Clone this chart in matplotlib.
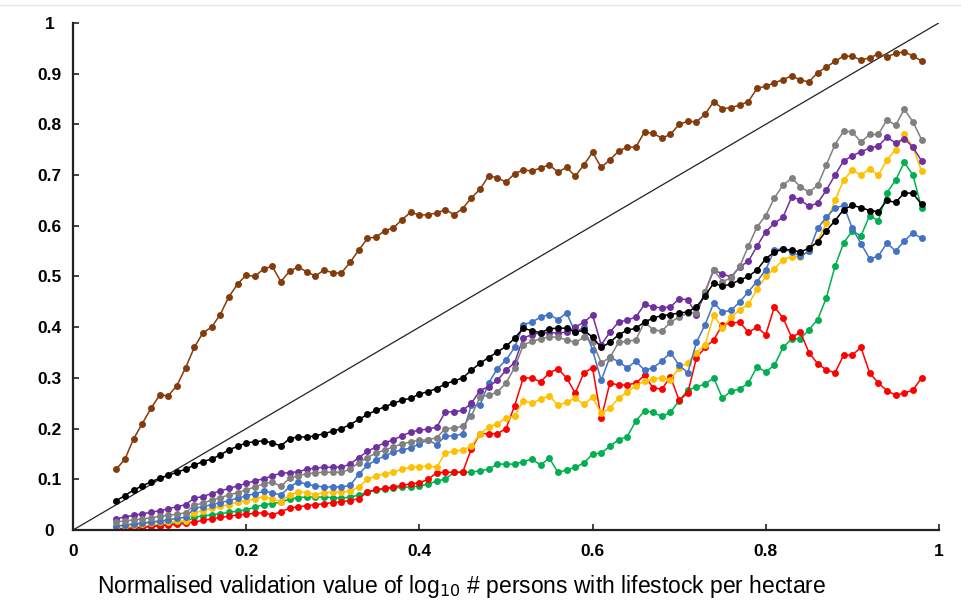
import numpy as np
import matplotlib
matplotlib.use("Agg")
import matplotlib.pyplot as plt
from matplotlib.lines import Line2D

plt.rcParams["font.family"] = ["Liberation Sans", "DejaVu Sans"]

# validation bins (0.05 .. 0.98)
x = np.round(np.arange(0.05, 0.985, 0.01), 2)

brown = [0.12, 0.14, 0.18, 0.21, 0.24, 0.266, 0.265, 0.285, 0.32, 0.36,
         0.389, 0.40, 0.425, 0.46, 0.485, 0.503, 0.50, 0.515, 0.52, 0.49,
         0.51, 0.519, 0.509, 0.501, 0.513, 0.507, 0.507, 0.528, 0.552, 0.575,
         0.578, 0.59, 0.596, 0.612, 0.627, 0.621, 0.622, 0.625, 0.632, 0.622,
         0.634, 0.655, 0.672, 0.698, 0.695, 0.686, 0.703, 0.71, 0.708, 0.714,
         0.72, 0.706, 0.715, 0.698, 0.72, 0.745, 0.715, 0.73, 0.747, 0.755,
         0.755, 0.785, 0.782, 0.773, 0.78, 0.80, 0.806, 0.805, 0.82, 0.845,
         0.831, 0.833, 0.838, 0.845, 0.871, 0.875, 0.882, 0.888, 0.896, 0.887,
         0.884, 0.902, 0.913, 0.924, 0.935, 0.934, 0.927, 0.931, 0.939, 0.933,
         0.94, 0.943, 0.935, 0.925]

black = [0.058, 0.068, 0.079, 0.087, 0.095, 0.102, 0.108, 0.114, 0.12, 0.128,
         0.135, 0.14, 0.148, 0.158, 0.165, 0.172, 0.174, 0.176, 0.172, 0.166,
         0.18, 0.184, 0.183, 0.186, 0.19, 0.195, 0.2, 0.208, 0.218, 0.228,
         0.236, 0.243, 0.25, 0.256, 0.26, 0.268, 0.273, 0.279, 0.288, 0.294,
         0.30, 0.315, 0.329, 0.34, 0.351, 0.362, 0.378, 0.398, 0.393, 0.389,
         0.397, 0.398, 0.398, 0.39, 0.394, 0.38, 0.36, 0.37, 0.385, 0.394,
         0.398, 0.41, 0.418, 0.423, 0.425, 0.428, 0.43, 0.44, 0.462, 0.487,
         0.481, 0.485, 0.493, 0.50, 0.513, 0.535, 0.548, 0.554, 0.552, 0.548,
         0.556, 0.568, 0.59, 0.61, 0.632, 0.64, 0.636, 0.63, 0.628, 0.65,
         0.646, 0.665, 0.664, 0.642]

purple = [0.022, 0.026, 0.029, 0.032, 0.035, 0.038, 0.042, 0.046, 0.05, 0.063,
          0.066, 0.072, 0.077, 0.082, 0.087, 0.092, 0.097, 0.101, 0.107, 0.112,
          0.113, 0.115, 0.12, 0.122, 0.124, 0.124, 0.124, 0.13, 0.143, 0.155,
          0.164, 0.172, 0.178, 0.186, 0.193, 0.197, 0.199, 0.203, 0.233, 0.233,
          0.236, 0.25, 0.275, 0.283, 0.295, 0.315, 0.33, 0.379, 0.385, 0.389,
          0.389, 0.389, 0.39, 0.40, 0.41, 0.424, 0.365, 0.39, 0.41, 0.414,
          0.42, 0.445, 0.44, 0.438, 0.44, 0.456, 0.454, 0.425, 0.47, 0.513,
          0.505, 0.499, 0.519, 0.53, 0.56, 0.588, 0.605, 0.617, 0.657, 0.651,
          0.638, 0.645, 0.67, 0.70, 0.728, 0.738, 0.746, 0.753, 0.757, 0.775,
          0.763, 0.772, 0.755, 0.728]

grey = [0.016, 0.018, 0.02, 0.022, 0.024, 0.027, 0.029, 0.031, 0.034, 0.049,
        0.053, 0.059, 0.064, 0.069, 0.074, 0.079, 0.085, 0.091, 0.095, 0.086,
        0.102, 0.107, 0.111, 0.113, 0.114, 0.114, 0.114, 0.12, 0.133, 0.143,
        0.152, 0.158, 0.164, 0.17, 0.174, 0.177, 0.178, 0.182, 0.2, 0.201,
        0.205, 0.225, 0.262, 0.266, 0.272, 0.29, 0.32, 0.365, 0.372, 0.377,
        0.381, 0.38, 0.375, 0.37, 0.38, 0.37, 0.33, 0.34, 0.37, 0.372,
        0.375, 0.41, 0.395, 0.392, 0.41, 0.42, 0.428, 0.428, 0.47, 0.513,
        0.49, 0.497, 0.52, 0.56, 0.598, 0.62, 0.655, 0.68, 0.694, 0.677,
        0.666, 0.68, 0.72, 0.76, 0.787, 0.785, 0.765, 0.78, 0.78, 0.809,
        0.798, 0.83, 0.805, 0.77]

blue = [0.008, 0.01, 0.012, 0.014, 0.016, 0.018, 0.02, 0.023, 0.025, 0.043,
        0.046, 0.05, 0.054, 0.058, 0.063, 0.067, 0.072, 0.076, 0.074, 0.069,
        0.085, 0.095, 0.09, 0.087, 0.085, 0.085, 0.085, 0.088, 0.11, 0.128,
        0.138, 0.146, 0.154, 0.158, 0.162, 0.17, 0.178, 0.168, 0.186, 0.185,
        0.19, 0.246, 0.246, 0.29, 0.318, 0.335, 0.36, 0.405, 0.41, 0.42,
        0.425, 0.415, 0.428, 0.39, 0.40, 0.355, 0.295, 0.341, 0.332, 0.32,
        0.333, 0.315, 0.32, 0.333, 0.35, 0.325, 0.31, 0.37, 0.405, 0.448,
        0.43, 0.433, 0.45, 0.47, 0.49, 0.513, 0.552, 0.555, 0.548, 0.54,
        0.55, 0.595, 0.617, 0.635, 0.64, 0.595, 0.565, 0.535, 0.54, 0.566,
        0.55, 0.57, 0.586, 0.575]

yellow = [0.005, 0.007, 0.009, 0.012, 0.014, 0.015, 0.016, 0.017, 0.018, 0.034,
          0.038, 0.043, 0.047, 0.05, 0.055, 0.058, 0.062, 0.065, 0.062, 0.056,
          0.069, 0.075, 0.074, 0.07, 0.074, 0.075, 0.075, 0.077, 0.085, 0.1,
          0.107, 0.111, 0.114, 0.12, 0.124, 0.125, 0.126, 0.124, 0.152, 0.155,
          0.158, 0.165, 0.19, 0.203, 0.21, 0.22, 0.225, 0.255, 0.25, 0.258,
          0.265, 0.246, 0.252, 0.26, 0.248, 0.262, 0.23, 0.24, 0.26, 0.272,
          0.285, 0.293, 0.298, 0.30, 0.296, 0.32, 0.33, 0.35, 0.365, 0.424,
          0.398, 0.42, 0.434, 0.445, 0.475, 0.50, 0.515, 0.533, 0.539, 0.539,
          0.55, 0.57, 0.605, 0.65, 0.69, 0.71, 0.70, 0.712, 0.70, 0.73,
          0.75, 0.78, 0.755, 0.708]

red = [0.002, 0.003, 0.004, 0.005, 0.007, 0.008, 0.01, 0.011, 0.013, 0.016,
       0.019, 0.022, 0.025, 0.027, 0.03, 0.031, 0.033, 0.034, 0.03, 0.036,
       0.043, 0.046, 0.048, 0.05, 0.052, 0.054, 0.056, 0.058, 0.062, 0.075,
       0.08, 0.082, 0.085, 0.088, 0.091, 0.093, 0.1, 0.113, 0.114, 0.114,
       0.114, 0.16, 0.19, 0.19, 0.19, 0.2, 0.245, 0.30, 0.30, 0.292,
       0.31, 0.318, 0.30, 0.27, 0.31, 0.32, 0.22, 0.29, 0.286, 0.286,
       0.29, 0.305, 0.28, 0.278, 0.302, 0.256, 0.27, 0.34, 0.36, 0.375,
       0.405, 0.408, 0.41, 0.39, 0.40, 0.385, 0.44, 0.418, 0.38, 0.39,
       0.35, 0.328, 0.316, 0.31, 0.345, 0.345, 0.36, 0.31, 0.29, 0.275,
       0.266, 0.27, 0.276, 0.30]

green = [0.0, 0.002, 0.004, 0.006, 0.008, 0.01, 0.012, 0.014, 0.016, 0.025,
         0.028, 0.03, 0.032, 0.035, 0.037, 0.04, 0.045, 0.05, 0.052, 0.055,
         0.061, 0.064, 0.065, 0.065, 0.065, 0.064, 0.063, 0.065, 0.069, 0.075,
         0.078, 0.081, 0.083, 0.084, 0.085, 0.087, 0.09, 0.097, 0.1, 0.114,
         0.114, 0.114, 0.117, 0.12, 0.13, 0.13, 0.13, 0.135, 0.14, 0.128,
         0.142, 0.114, 0.118, 0.124, 0.132, 0.15, 0.152, 0.165, 0.178, 0.184,
         0.215, 0.235, 0.232, 0.224, 0.232, 0.255, 0.276, 0.282, 0.288, 0.30,
         0.26, 0.274, 0.278, 0.29, 0.322, 0.312, 0.325, 0.36, 0.377, 0.377,
         0.395, 0.415, 0.458, 0.52, 0.566, 0.59, 0.58, 0.62, 0.61, 0.665,
         0.69, 0.725, 0.70, 0.635]

series = [
    (brown, "#843C0C"),
    (green, "#00B050"),
    (red, "#FF0000"),
    (yellow, "#FFC000"),
    (blue, "#4472C4"),
    (purple, "#7030A0"),
    (grey, "#808080"),
    (black, "#000000"),
]

fig = plt.figure(figsize=(9.61, 6.03), dpi=100)
ax = fig.add_axes([0.076, 0.121, 0.901, 0.841])

# 1:1 line
ax.plot([0, 1], [0, 1], color="#222222", lw=0.9, zorder=1)

for vals, col in series:
    ax.plot(x, vals, color=col, lw=1.1, marker="o", markersize=5.0,
            markeredgewidth=0, zorder=2)

ax.set_xlim(0, 1)
ax.set_ylim(0, 1)
ax.set_xticks([0, 0.2, 0.4, 0.6, 0.8, 1])
ax.set_xticklabels(["0", "0.2", "0.4", "0.6", "0.8", "1"])
ax.set_yticks(np.arange(0, 1.01, 0.1))
ax.set_yticklabels(["0", "0.1", "0.2", "0.3", "0.4", "0.5", "0.6", "0.7", "0.8", "0.9", "1"])

for s in ["top", "right"]:
    ax.spines[s].set_visible(False)
for s in ["left", "bottom"]:
    ax.spines[s].set_linewidth(1.6)
    ax.spines[s].set_color("#222222")

ax.tick_params(axis="both", direction="in", length=4, width=1.2, color="#222222")
ax.tick_params(axis="y", pad=17)
ax.tick_params(axis="x", pad=10)
for lab in ax.get_xticklabels() + ax.get_yticklabels():
    lab.set_fontweight("bold")
    lab.set_fontsize(12.5)
for lab in ax.get_yticklabels():
    lab.set_horizontalalignment("center")

fig.text(0.48, 0.028, r"Normalised validation value of log$_{10}$ # persons with lifestock per hectare",
         ha="center", va="center", fontsize=16.5)

fig.add_artist(Line2D([0, 1], [0.992, 0.992], color="#e6e6e6", lw=1))

fig.savefig("out.png", dpi=100)
